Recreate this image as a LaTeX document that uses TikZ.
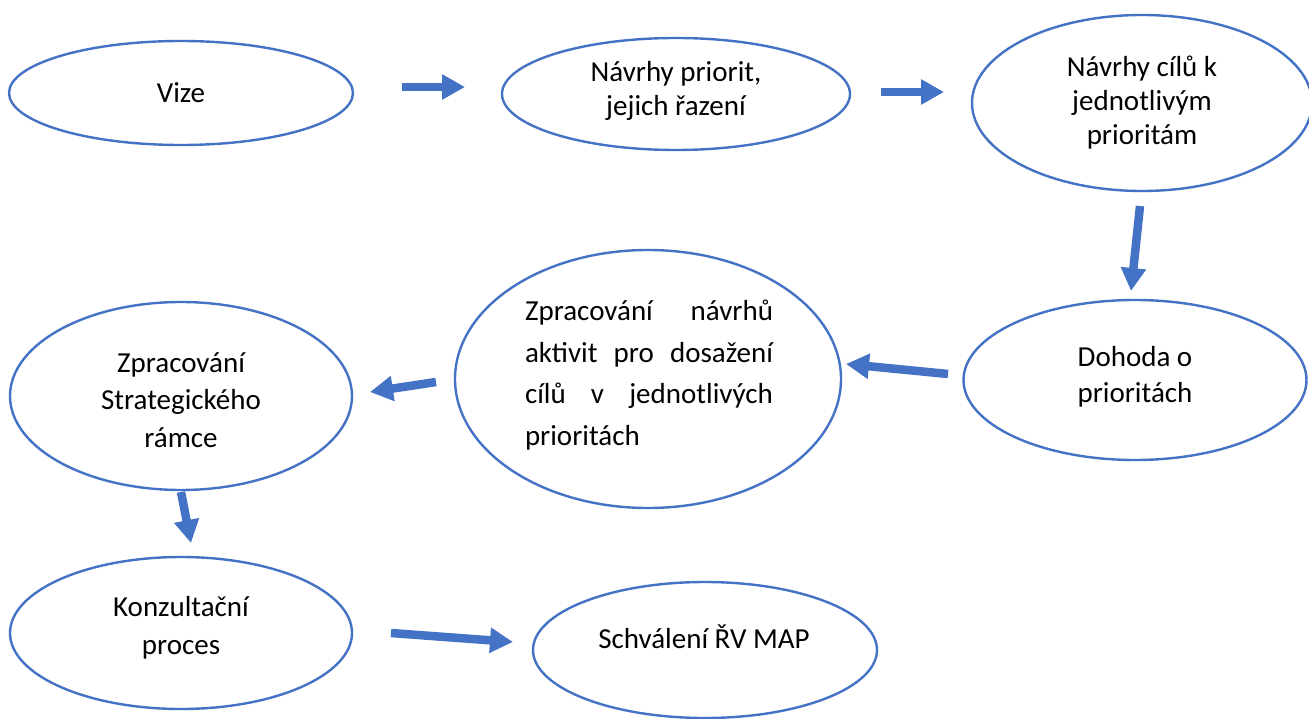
\documentclass[tikz,border=0pt]{standalone}
\usepackage{fontspec}
\setmainfont{Carlito}
\usetikzlibrary{shapes.geometric,arrows.meta}
\definecolor{accent}{HTML}{4472C4}
\begin{document}
\begin{tikzpicture}[x=1pt,y=-1pt,
  oval/.style={ellipse,draw=accent,line width=2.4pt,inner sep=0pt},
  lbl/.style={align=center,inner sep=0pt,font=\fontsize{29}{34}\selectfont},
  blockarrow/.style={draw=accent,line width=8.5pt,-{Triangle[length=23pt,width=24pt]}}]
\useasboundingbox[fill=white] (0,0) rectangle (1309,719);
% ellipses
\node[oval,minimum width=344pt,minimum height=104pt] (e1) at (181,93) {};
\node[oval,minimum width=348pt,minimum height=112pt] (e2) at (676,94) {};
\node[oval,minimum width=340pt,minimum height=176pt] (e3) at (1142,103) {};
\node[oval,minimum width=343pt,minimum height=160pt] (e4) at (1135,380) {};
\node[oval,minimum width=386pt,minimum height=258pt] (e5) at (648,379) {};
\node[oval,minimum width=342pt,minimum height=188pt] (e6) at (181,396) {};
\node[oval,minimum width=342pt,minimum height=152pt] (e7) at (181,633) {};
\node[oval,minimum width=344pt,minimum height=136pt] (e8) at (705,650) {};
% texts
\node[lbl] (t1) at (181,93) {Vize};
\node[lbl] (t2) at (676,91) {Návrhy priorit,\\jejich řazení};
\node[lbl] (t3) at (1142,103) {Návrhy cílů k\\jednotlivým\\prioritám};
\node[lbl,font=\fontsize{29}{36}\selectfont] (t4) at (1135,377) {Dohoda o\\prioritách};
\node[lbl,align=left,font=\fontsize{29}{41.5}\selectfont] (t5) at (649,375)
  {\makebox[248pt][s]{Zpracování návrhů}\\
   \makebox[248pt][s]{aktivit pro dosažení}\\
   \makebox[248pt][s]{cílů v jednotlivých}\\
   prioritách};
\node[lbl,font=\fontsize{29}{37.5}\selectfont] (t6) at (181,400) {Zpracování\\Strategického\\rámce};
\node[lbl,font=\fontsize{29}{38}\selectfont] (t7) at (181,628) {Konzultační\\proces};
\node[lbl] (t8) at (704,637) {Schválení ŘV MAP};
% arrow end points
\coordinate (a1s) at (402,87); \coordinate (a1e) at (465,87);
\coordinate (a2s) at (881,92); \coordinate (a2e) at (944,92);
\coordinate (a3s) at (1140,206); \coordinate (a3e) at (1131,291);
\coordinate (a4s) at (948,374); \coordinate (a4e) at (846,364);
\coordinate (a5s) at (436,382); \coordinate (a5e) at (370,392);
\coordinate (a6s) at (181,492); \coordinate (a6e) at (191,543);
\coordinate (a7s) at (391,633); \coordinate (a7e) at (513,642);
\draw[blockarrow] (a1s) -- (a1e);
\draw[blockarrow] (a2s) -- (a2e);
\draw[blockarrow] (a3s) -- (a3e);
\draw[blockarrow] (a4s) -- (a4e);
\draw[blockarrow] (a5s) -- (a5e);
\draw[blockarrow] (a6s) -- (a6e);
\draw[blockarrow] (a7s) -- (a7e);
\end{tikzpicture}
\end{document}
